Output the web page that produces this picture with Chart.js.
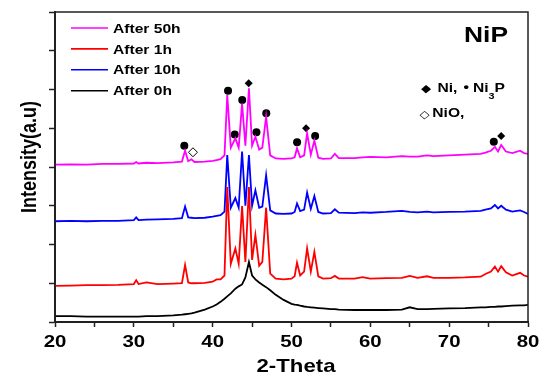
<!DOCTYPE html>
<html>
<head>
<meta charset="utf-8">
<script src="https://cdn.jsdelivr.net/npm/chart.js@4.4.0/dist/chart.umd.min.js"></script>
<style>
  html, body { margin: 0; padding: 0; background: #fff; }
  #wrap { width: 550px; height: 381px; }
</style>
</head>
<body>
<div id="wrap"><canvas id="xrdChart" width="550" height="381"></canvas></div>
<script>
var twoTheta = [20, 22, 24, 26, 28, 30, 30.3, 30.6, 31.6, 33, 35, 36.1, 36.5, 36.9, 37.3, 37.7, 39, 40, 40.5, 41,
    41.5, 41.85, 42.3, 42.88, 43.3, 43.73, 44.15, 44.6, 45.0, 45.42, 45.9, 46.3, 46.78, 47.3, 48, 49, 50, 50.4, 50.7, 51.1,
    51.6, 51.98, 52.45, 52.9, 53.4, 54, 55, 55.5, 56, 58, 59, 60, 62, 64, 65, 66, 67.2, 68, 70, 72,
    74, 74.6, 75.3, 75.8, 76.2, 76.6, 77.2, 78, 79, 79.5, 80];

var after50h = [4.06, 4.07, 4.06, 4.08, 4.08, 4.09, 4.13, 4.09, 4.11, 4.10, 4.12, 4.14, 4.42, 4.15, 4.20, 4.13, 4.14, 4.16, 4.18, 4.20,
    4.30, 5.86, 4.50, 4.74, 4.50, 5.64, 4.55, 6.03, 4.55, 4.78, 4.45, 4.50, 5.30, 4.30, 4.22, 4.21, 4.22, 4.25, 4.48, 4.25,
    4.30, 4.87, 4.32, 4.68, 4.24, 4.21, 4.22, 4.34, 4.23, 4.23, 4.25, 4.26, 4.25, 4.28, 4.27, 4.27, 4.30, 4.28, 4.30, 4.32,
    4.34, 4.37, 4.42, 4.52, 4.40, 4.57, 4.40, 4.36, 4.42, 4.36, 4.34];

var after1h = [0.93, 0.94, 0.95, 0.95, 0.96, 0.98, 1.08, 0.98, 1.02, 0.98, 0.99, 1.00, 1.47, 1.02, 1.00, 1.00, 1.01, 1.04, 1.10, 1.10,
    1.20, 3.48, 1.50, 1.90, 1.50, 2.99, 1.55, 3.48, 1.60, 2.25, 1.45, 1.55, 2.95, 1.25, 1.12, 1.10, 1.12, 1.18, 1.53, 1.20,
    1.30, 1.90, 1.30, 1.81, 1.18, 1.12, 1.13, 1.19, 1.12, 1.12, 1.16, 1.12, 1.13, 1.14, 1.19, 1.14, 1.18, 1.14, 1.14, 1.15,
    1.17, 1.24, 1.30, 1.43, 1.30, 1.44, 1.28, 1.20, 1.27, 1.20, 1.17];

var after10h = [2.60, 2.61, 2.60, 2.61, 2.61, 2.63, 2.70, 2.63, 2.64, 2.65, 2.66, 2.68, 2.98, 2.70, 2.69, 2.68, 2.69, 2.72, 2.74, 2.76,
    2.85, 4.31, 2.95, 3.20, 2.95, 4.40, 3.00, 4.31, 3.00, 3.40, 2.95, 2.98, 3.79, 2.88, 2.80, 2.79, 2.80, 2.84, 3.06, 2.86,
    2.90, 3.34, 2.92, 3.25, 2.84, 2.80, 2.81, 2.91, 2.82, 2.81, 2.83, 2.82, 2.84, 2.87, 2.84, 2.83, 2.85, 2.83, 2.84, 2.85,
    2.87, 2.90, 2.93, 3.02, 2.93, 3.00, 2.90, 2.85, 2.88, 2.84, 2.79];

var after0h = [0.15, 0.15, 0.14, 0.14, 0.14, 0.14, 0.14, 0.14, 0.15, 0.15, 0.17, 0.19, 0.20, 0.21, 0.22, 0.24, 0.32, 0.40, 0.45, 0.52,
    0.60, 0.66, 0.74, 0.86, 0.92, 0.97, 1.15, 1.55, 1.20, 1.10, 1.02, 0.96, 0.90, 0.82, 0.70, 0.57, 0.47, 0.45, 0.44, 0.42,
    0.40, 0.39, 0.38, 0.37, 0.36, 0.35, 0.33, 0.33, 0.32, 0.31, 0.31, 0.31, 0.31, 0.32, 0.38, 0.33, 0.33, 0.34, 0.35, 0.36,
    0.38, 0.38, 0.39, 0.39, 0.40, 0.40, 0.41, 0.42, 0.43, 0.43, 0.44];

// phase markers above the peaks (2-theta, intensity)
var ni3pMarks = [[36.4, 4.55], [41.95, 5.97], [42.8, 4.84], [43.75, 5.73], [45.55, 4.9], [46.8, 5.39], [50.71, 4.64], [53.0, 4.8], [75.66, 4.65]];
var niMarks = [[44.57, 6.16], [51.85, 5.0], [76.6, 4.8]];
var nioMarks = [[37.5, 4.38]];

var xTickLabels = [20, 30, 40, 50, 60, 70, 80];
var seriesNames = ['After 50h', 'After 1h', 'After 10h', 'After 0h'];
var seriesColors = ['#ff00ff', '#ff0000', '#0000ff', '#000000'];

var fontFamily = '"Liberation Sans", Arial, sans-serif';
var stretch = 1.2; // the source picture's lettering is a bit wide

function toPoints(xs, ys) {
    return xs.map(function (x, i) { return { x: x, y: ys[i] }; });
}

function toXY(list) {
    return list.map(function (p) { return { x: p[0], y: p[1] }; });
}

// draw text widened horizontally, returns the drawn width
function wideText(c, text, x, y, font, align) {
    c.save();
    c.font = font;
    c.textAlign = align || 'left';
    c.textBaseline = 'alphabetic';
    c.translate(x, y);
    c.scale(stretch, 1);
    c.fillText(text, 0, 0);
    var w = c.measureText(text).width * stretch;
    c.restore();
    return w;
}

// texts, legend inside the plot and the frame
var extrasPlugin = {
    id: 'extras',
    afterDraw: function (chart) {
        var c = chart.ctx;
        var area = chart.chartArea;
        var xs = chart.scales.x;
        c.save();
        c.fillStyle = '#000';

        c.strokeStyle = '#222';
        c.lineWidth = 1.5;
        c.strokeRect(area.left, area.top, area.right - area.left, area.bottom - area.top);

        // x tick labels
        xTickLabels.forEach(function (v) {
            wideText(c, String(v), xs.getPixelForValue(v), 346.5, 'bold 17px ' + fontFamily, 'center');
        });

        // axis titles
        wideText(c, '2-Theta', 296, 371.5, 'bold 18.5px ' + fontFamily, 'center');
        c.save();
        c.font = 'bold 18px ' + fontFamily;
        c.textAlign = 'center';
        c.textBaseline = 'alphabetic';
        c.translate(36, 157);
        c.scale(stretch, 1);
        c.rotate(-Math.PI / 2);
        c.fillText('Intensity(a.u)', 0, 0);
        c.restore();

        // legend
        for (var i = 0; i < seriesNames.length; i++) {
            var y = 28 + i * 20.9;
            c.strokeStyle = seriesColors[i];
            c.lineWidth = 1.6;
            c.beginPath();
            c.moveTo(71, y);
            c.lineTo(108, y);
            c.stroke();
            wideText(c, chart.data.datasets[i].label, 113, y + 4.6, 'bold 13px ' + fontFamily);
        }

        wideText(c, 'NiP', 508, 41.7, 'bold 22px ' + fontFamily, 'right');

        var ly = 91.7;
        wideText(c, '\u25C6', 421, ly, '11px "DejaVu Sans"');
        wideText(c, 'Ni,', 437.5, ly, 'bold 13px ' + fontFamily);
        wideText(c, '\u2022', 463.5, ly - 0.5, 'bold 13px ' + fontFamily);
        var w = wideText(c, 'Ni', 473, ly, 'bold 13px ' + fontFamily);
        var w3 = wideText(c, '3', 473 + w, ly + 7, 'bold 9px ' + fontFamily);
        wideText(c, 'P', 473 + w + w3, ly, 'bold 13px ' + fontFamily);

        wideText(c, '\u25C7', 419.5, 117.5, '11px "DejaVu Sans"');
        wideText(c, 'NiO,', 432.3, 117.3, 'bold 13px ' + fontFamily);

        c.restore();
    }
};

function xrdChart() {
    var ctx = document.getElementById('xrdChart').getContext('2d');
    var lineSets = [after50h, after1h, after10h, after0h];

    var datasets = lineSets.map(function (ys, i) {
        return {
            label: seriesNames[i],
            data: toPoints(twoTheta, ys),
            borderColor: seriesColors[i],
            borderWidth: 1.8,
            pointRadius: 0,
            tension: 0,
            fill: false
        };
    });

    datasets.push({
        label: 'Ni3P',
        type: 'scatter',
        data: toXY(ni3pMarks),
        pointStyle: 'circle',
        pointRadius: 4,
        backgroundColor: '#000',
        borderColor: '#000',
        borderWidth: 0
    });
    datasets.push({
        label: 'Ni',
        type: 'scatter',
        data: toXY(niMarks),
        pointStyle: 'rectRot',
        pointRadius: 4,
        backgroundColor: '#000',
        borderColor: '#000',
        borderWidth: 0
    });
    datasets.push({
        label: 'NiO',
        type: 'scatter',
        data: toXY(nioMarks),
        pointStyle: 'rectRot',
        pointRadius: 4.5,
        backgroundColor: '#fff',
        borderColor: '#000',
        borderWidth: 1
    });

    new Chart(ctx, {
        type: 'line',
        data: { datasets: datasets },
        options: {
            responsive: false,
            animation: false,
            devicePixelRatio: 1,
            layout: { padding: { left: 0, right: 22, top: 12, bottom: 0 } },
            plugins: {
                legend: { display: false },
                tooltip: { enabled: false }
            },
            scales: {
                x: {
                    type: 'linear',
                    min: 20,
                    max: 80,
                    afterFit: function (scale) { scale.height = 59; },
                    ticks: {
                        stepSize: 5,
                        autoSkip: false,
                        maxRotation: 0,
                        callback: function () { return ''; }
                    },
                    grid: { drawOnChartArea: false, drawTicks: true, tickLength: 5, tickColor: '#222', tickWidth: 1.5 },
                    border: { display: true, color: '#222', width: 2 }
                },
                y: {
                    min: 0,
                    max: 8,
                    afterFit: function (scale) { scale.width = 55; },
                    ticks: {
                        stepSize: 1,
                        callback: function () { return ''; }
                    },
                    grid: { drawOnChartArea: false, drawTicks: true, tickLength: 6, tickColor: '#222', tickWidth: 1.5 },
                    border: { display: true, color: '#222', width: 2 }
                }
            }
        },
        plugins: [extrasPlugin]
    });
}

xrdChart();
</script>
</body>
</html>
